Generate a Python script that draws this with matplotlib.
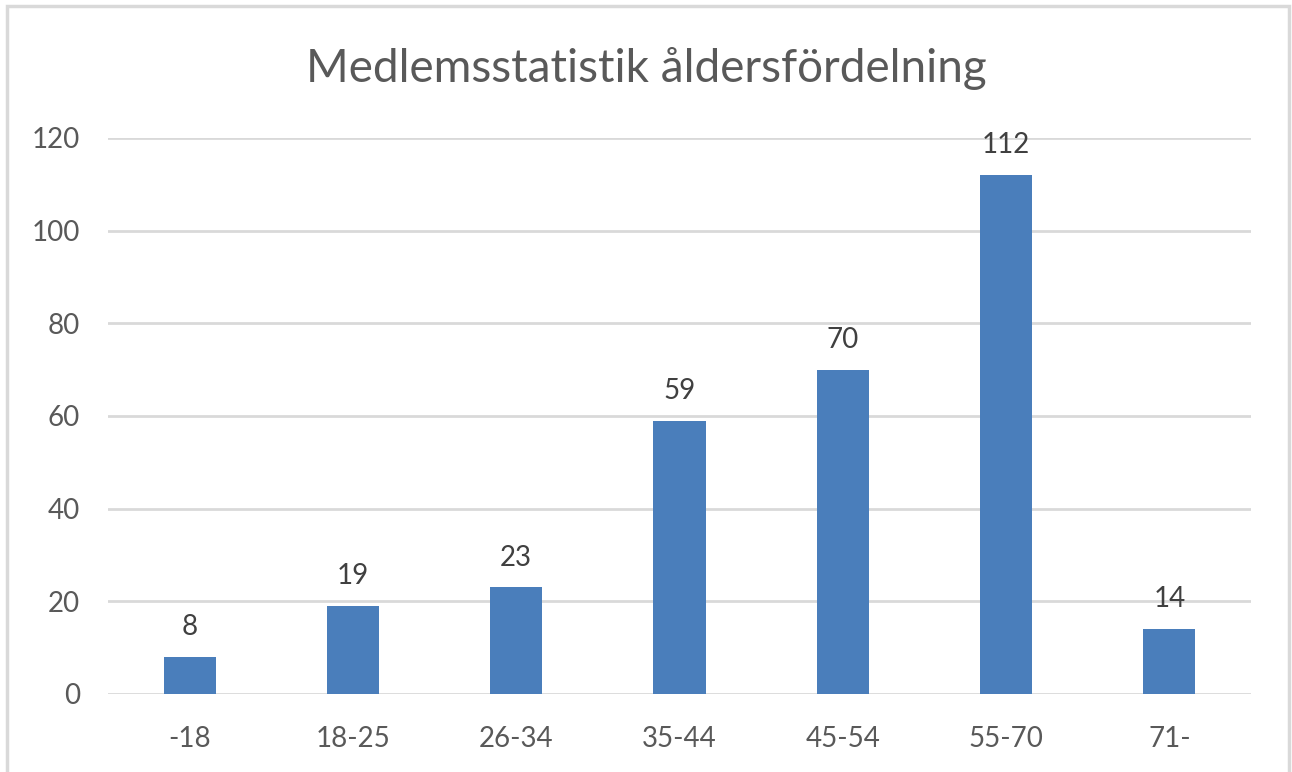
import matplotlib.pyplot as plt
import matplotlib.patches as mpatches
import numpy as np

# data
age_groups = ['-18', '18-25', '26-34', '35-44', '45-54', '55-70', '71-']
members = [8, 19, 23, 59, 70, 112, 14]
yticks = [0, 20, 40, 60, 80, 100, 120]

txt_color = '#595959'
bar_color = '#4a7ebb'
grid_color = '#d9d9d9'

plt.rcParams['font.family'] = ['Lato', 'DejaVu Sans']

fig = plt.figure(figsize=(12.92, 7.72), dpi=100)
ax = fig.add_axes([108/1292, 1 - 694/772, (1251 - 108)/1292, (694 - 138)/772])

x = np.arange(len(age_groups))
bars = ax.bar(x, members, width=0.32, color=bar_color, zorder=3)
for xi, v in zip(x, members):
    ax.annotate(str(v), (xi, v), xytext=(0, 12), textcoords='offset points',
                ha='center', va='bottom', fontsize=20, color='#404040')

ax.set_xlim(-0.5, len(age_groups) - 0.5)
ax.set_ylim(0, 120)
ax.set_yticks(yticks)
ax.set_xticks(x)
ax.set_xticklabels(age_groups)
ax.yaxis.grid(True, color=grid_color, linewidth=2, zorder=0)
ax.tick_params(axis='both', length=0, labelsize=20, labelcolor=txt_color)
ax.tick_params(axis='y', pad=20)
ax.tick_params(axis='x', pad=23)
for s in ax.spines.values():
    s.set_visible(False)

fig.text(0.5, 1 - 68/772, 'Medlemsstatistik åldersfördelning', ha='center', va='center',
         fontsize=33, color=txt_color)

# outer chart border
fig.patches.append(mpatches.Rectangle((7/1292, -0.05), (1289 - 7)/1292, 1 - 6/772 + 0.05,
                                      transform=fig.transFigure, fill=False,
                                      edgecolor=grid_color, linewidth=2.5))

fig.savefig('out.png', dpi=100)
